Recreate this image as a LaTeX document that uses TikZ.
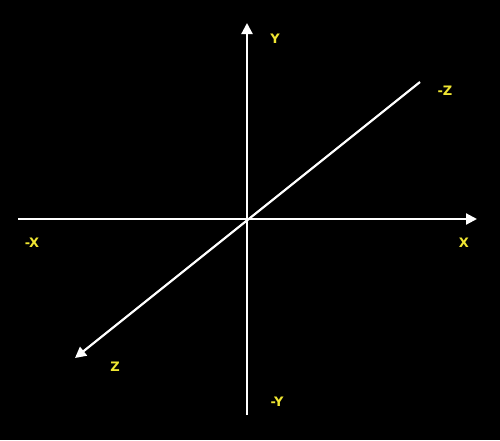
\documentclass[tikz,border=0pt]{standalone}
\usepackage{fontspec}
\setmainfont{DejaVu Sans}
\usetikzlibrary{arrows.meta}
\definecolor{lbl}{RGB}{240,230,50}
\tikzset{
  axis/.style={draw=white, line width=2.2pt, -{Triangle[length=11pt,width=11pt]}},
  lab/.style={text=lbl, font=\bfseries\fontsize{13pt}{15pt}\selectfont, inner sep=0pt}
}
\begin{document}
\begin{tikzpicture}[x=1pt,y=-1pt]
\fill[black] (0,0) rectangle (500,440);
\useasboundingbox (0,0) rectangle (500,440);
\coordinate (xl) at (18,219);
\coordinate (xr) at (477,219);
\coordinate (yt) at (247,23);
\coordinate (yb) at (247,415);
\coordinate (zf) at (420,82);
\coordinate (zn) at (75,358);
\draw[axis] (xl) -- (xr);
\draw[axis] (yb) -- (yt);
\draw[axis] (zf) -- (zn);
\node[lab] (ly) at (275,39) {Y};
\node[lab] (lmy) at (277,402) {-Y};
\node[lab] (lx) at (464,243) {X};
\node[lab] (lmx) at (32,243) {-X};
\node[lab] (lz) at (115,367) {Z};
\node[lab] (lmz) at (445,91) {-Z};
\end{tikzpicture}
\end{document}
